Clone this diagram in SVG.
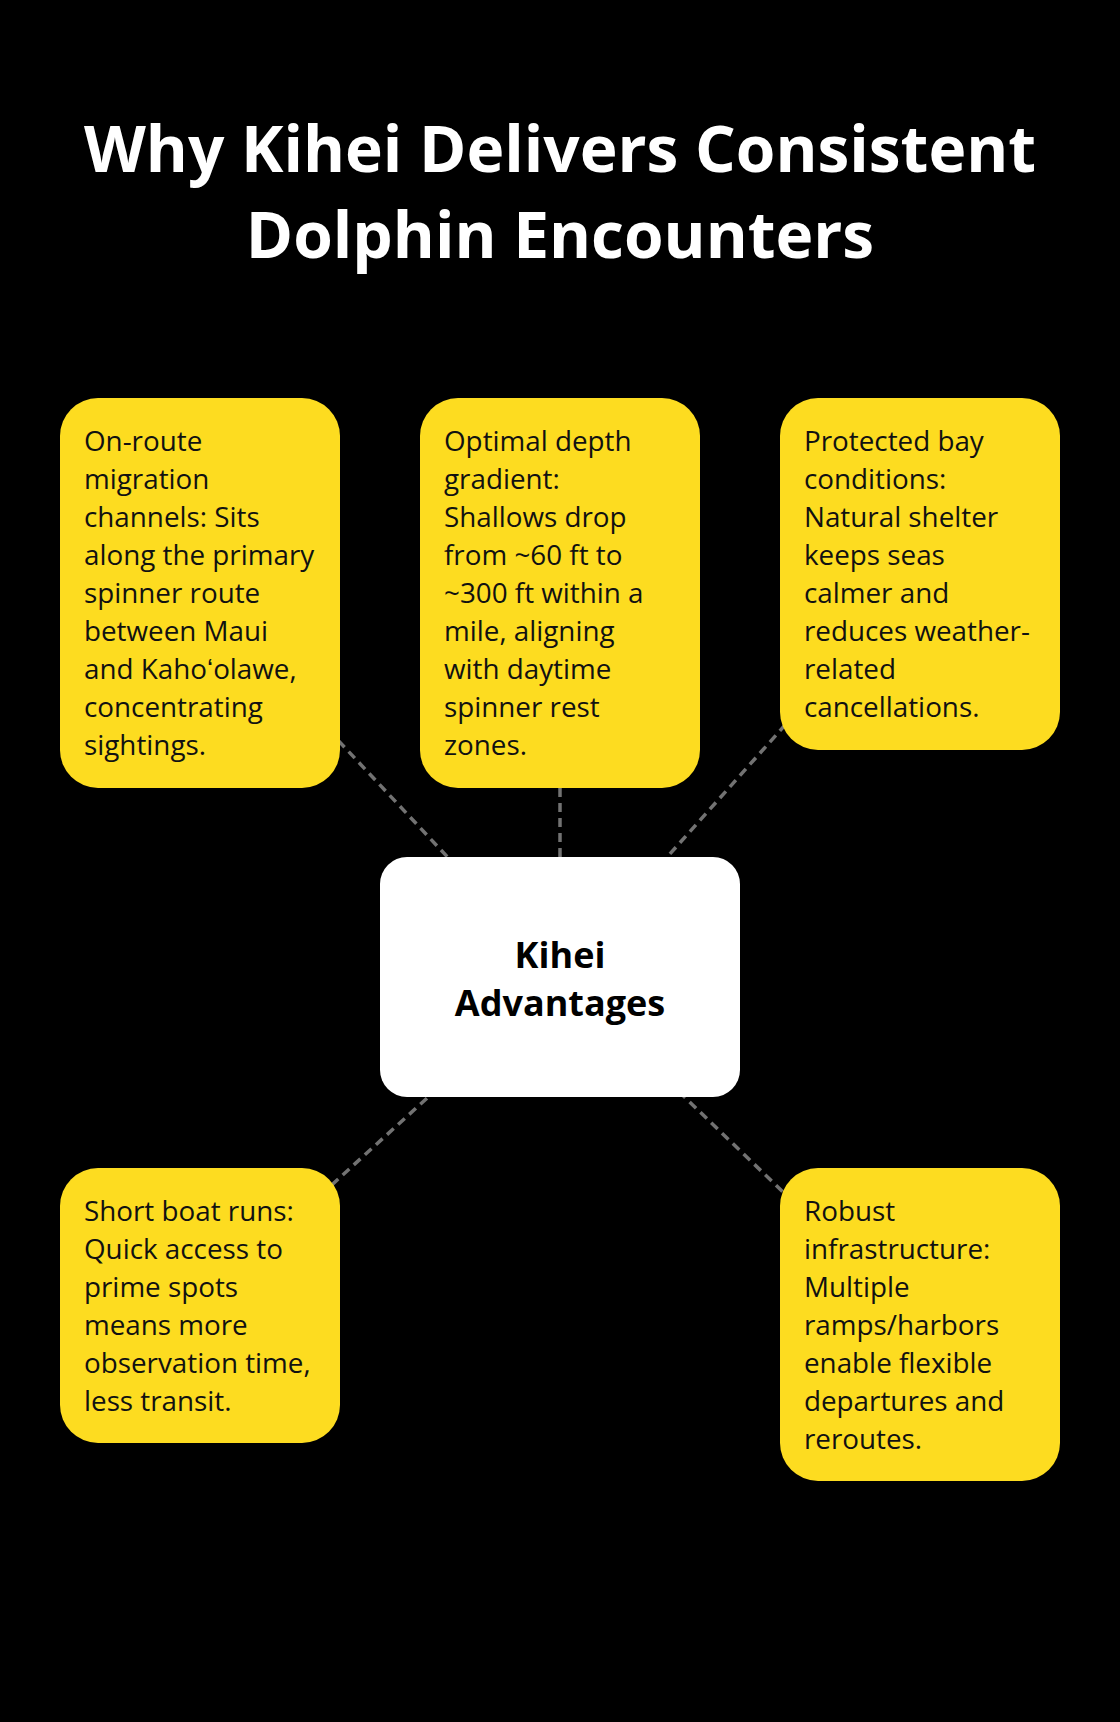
<svg xmlns="http://www.w3.org/2000/svg" width="1120" height="1722" viewBox="0 0 1120 1722">
<style>
.bg{fill:#000}
.card{fill:#FDDC20}
.hub{fill:#FFFFFF}
.title{font-family:"Open Sans","Liberation Sans",sans-serif;font-weight:700;font-size:64px;fill:#FFFFFF;text-anchor:middle}
.body{font-family:"Open Sans","Liberation Sans",sans-serif;font-size:27.8px;fill:#111111}
.hubtext{font-family:"Open Sans","Liberation Sans",sans-serif;font-weight:700;font-size:36px;fill:#000000;text-anchor:middle}
.edge{stroke:#727272;stroke-width:3.5;stroke-dasharray:9 6;fill:none}
</style>
<rect class="bg" x="0" y="0" width="1120" height="1722"/>
<g id="title">
<text class="title" x="560" y="172">Why Kihei Delivers Consistent</text>
<text class="title" x="560" y="258">Dolphin Encounters</text>
</g>
<g id="connectors">
<line class="edge" x1="560" y1="977" x2="200" y2="593"/>
<line class="edge" x1="560" y1="977" x2="560" y2="593"/>
<line class="edge" x1="560" y1="977" x2="920" y2="574"/>
<line class="edge" x1="560" y1="977" x2="200" y2="1305"/>
<line class="edge" x1="560" y1="977" x2="920" y2="1324"/>
</g>
<g id="node-migration">
<rect class="card" x="60" y="398" width="280" height="390" rx="38"/>
<text class="body" x="84">
<tspan x="84" y="451">On-route</tspan>
<tspan x="84" y="489">migration</tspan>
<tspan x="84" y="527">channels: Sits</tspan>
<tspan x="84" y="565">along the primary</tspan>
<tspan x="84" y="603">spinner route</tspan>
<tspan x="84" y="641">between Maui</tspan>
<tspan x="84" y="679">and Kahoʻolawe,</tspan>
<tspan x="84" y="717">concentrating</tspan>
<tspan x="84" y="755">sightings.</tspan>
</text>
</g>
<g id="node-depth">
<rect class="card" x="420" y="398" width="280" height="390" rx="38"/>
<text class="body" x="444">
<tspan x="444" y="451">Optimal depth</tspan>
<tspan x="444" y="489">gradient:</tspan>
<tspan x="444" y="527">Shallows drop</tspan>
<tspan x="444" y="565">from ~60 ft to</tspan>
<tspan x="444" y="603">~300 ft within a</tspan>
<tspan x="444" y="641">mile, aligning</tspan>
<tspan x="444" y="679">with daytime</tspan>
<tspan x="444" y="717">spinner rest</tspan>
<tspan x="444" y="755">zones.</tspan>
</text>
</g>
<g id="node-bay">
<rect class="card" x="780" y="398" width="280" height="352" rx="38"/>
<text class="body" x="804">
<tspan x="804" y="451">Protected bay</tspan>
<tspan x="804" y="489">conditions:</tspan>
<tspan x="804" y="527">Natural shelter</tspan>
<tspan x="804" y="565">keeps seas</tspan>
<tspan x="804" y="603">calmer and</tspan>
<tspan x="804" y="641">reduces weather-</tspan>
<tspan x="804" y="679">related</tspan>
<tspan x="804" y="717">cancellations.</tspan>
</text>
</g>
<g id="node-hub">
<rect class="hub" x="380" y="857" width="360" height="240" rx="27"/>
<text class="hubtext" x="560" y="968">Kihei</text>
<text class="hubtext" x="560" y="1016">Advantages</text>
</g>
<g id="node-boat">
<rect class="card" x="60" y="1168" width="280" height="275" rx="38"/>
<text class="body" x="84">
<tspan x="84" y="1221">Short boat runs:</tspan>
<tspan x="84" y="1259">Quick access to</tspan>
<tspan x="84" y="1297">prime spots</tspan>
<tspan x="84" y="1335">means more</tspan>
<tspan x="84" y="1373">observation time,</tspan>
<tspan x="84" y="1411">less transit.</tspan>
</text>
</g>
<g id="node-infra">
<rect class="card" x="780" y="1168" width="280" height="313" rx="38"/>
<text class="body" x="804">
<tspan x="804" y="1221">Robust</tspan>
<tspan x="804" y="1259">infrastructure:</tspan>
<tspan x="804" y="1297">Multiple</tspan>
<tspan x="804" y="1335">ramps/harbors</tspan>
<tspan x="804" y="1373">enable flexible</tspan>
<tspan x="804" y="1411">departures and</tspan>
<tspan x="804" y="1449">reroutes.</tspan>
</text>
</g>
</svg>
